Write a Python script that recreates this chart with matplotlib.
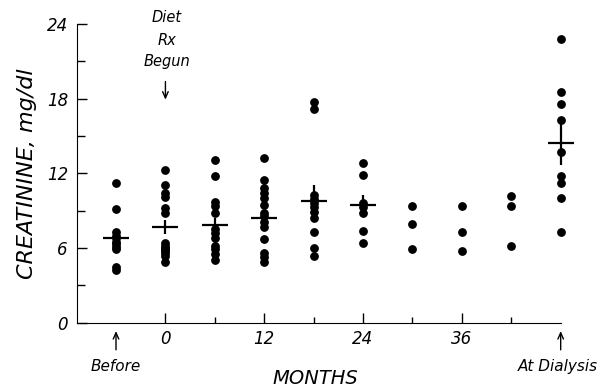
import matplotlib
matplotlib.use("Agg")
import matplotlib.pyplot as plt
from matplotlib.ticker import FixedLocator

# column positions (months); -6 = "Before", 48 = "At Dialysis"
before = [11.2, 9.1, 7.3, 7.0, 6.8, 6.5, 6.3, 6.1, 5.9, 4.5, 4.2]
m0 = [12.3, 11.1, 10.4, 10.1, 9.2, 8.8, 6.4, 6.2, 6.0, 5.9, 5.8, 5.6, 5.4, 4.9]
m6 = [13.1, 11.8, 9.7, 9.4, 8.8, 7.5, 7.2, 6.8, 6.2, 5.9, 5.5, 5.0]
m12 = [13.2, 11.5, 10.8, 10.4, 10.0, 9.45, 8.8, 8.6, 8.1, 7.7, 6.7, 5.6, 5.3, 4.9]
m18 = [17.7, 17.2, 10.3, 9.9, 9.6, 9.3, 8.9, 8.4, 7.3, 6.0, 5.4]
m24 = [12.8, 11.9, 9.6, 9.3, 8.8, 7.4, 6.4]
m30 = [9.4, 7.9, 5.9]
m36 = [9.4, 7.3, 5.8]
m42 = [10.2, 9.4, 6.2]
dialysis = [22.8, 18.5, 17.6, 16.3, 13.7, 11.8, 11.2, 10.0, 7.3]

columns = [-6, 0, 6, 12, 18, 24, 30, 36, 42, 48]
groups = [before, m0, m6, m12, m18, m24, m30, m36, m42, dialysis]

# mean +/- SEM crosses
mean_x = [-6, 0, 6, 12, 18, 24, 48]
mean_y = [6.77, 7.7, 7.84, 8.38, 9.8, 9.45, 14.4]
mean_err = [0.5, 0.55, 0.6, 0.6, 1.3, 0.8, 1.75]

fig = plt.figure(figsize=(6.16, 3.89), dpi=100)
ax = fig.add_axes([0.1255, 0.1704, 0.7847, 0.7679])

for x, vals in zip(columns, groups):
    ax.plot([x] * len(vals), vals, 'o', color='black', ms=5.3, clip_on=False, zorder=3)

ax.errorbar(mean_x, mean_y, yerr=mean_err, fmt='none', ecolor='black',
            elinewidth=1.6, capsize=0, clip_on=False, zorder=4)
ax.plot(mean_x, mean_y, '_', color='black', ms=19, mew=1.6, clip_on=False, zorder=4)

ax.set_xlim(-10.7, 48)
ax.set_ylim(0, 24)
ax.spines['top'].set_visible(False)
ax.spines['right'].set_visible(False)

ax.set_xticks([0, 12, 24, 36])
ax.xaxis.set_minor_locator(FixedLocator([6, 18, 30, 42]))
ax.set_yticks([0, 6, 12, 18, 24])
ax.yaxis.set_minor_locator(FixedLocator([3, 9, 15, 21]))
ax.tick_params(axis='both', which='both', direction='in')
ax.tick_params(axis='x', which='major', length=7, width=1, pad=5.3, labelsize=12)
ax.tick_params(axis='x', which='minor', length=4, width=1)
ax.tick_params(axis='y', which='major', length=7, width=1, pad=6.7, labelsize=12)
ax.tick_params(axis='y', which='minor', length=6, width=1)
for lab in ax.get_xticklabels() + ax.get_yticklabels():
    lab.set_fontstyle('italic')

ax.set_ylabel('CREATININE, mg/dl', fontsize=16, fontstyle='italic')
ax.yaxis.set_label_coords(-0.083, 0.5)

arrow = dict(arrowstyle='->,head_length=0.45,head_width=0.2', lw=1, color='black')
ax.annotate('', xy=(-6, -0.45), xytext=(-6, -2.4), annotation_clip=False, arrowprops=arrow)
ax.annotate('', xy=(48, -0.45), xytext=(48, -2.4), annotation_clip=False, arrowprops=arrow)
ax.annotate('', xy=(0, 17.7), xytext=(0, 19.6), annotation_clip=False, arrowprops=arrow)

txt = dict(ha='center', va='center', fontstyle='italic', annotation_clip=False)
ax.annotate('Before', xy=(-6, -3.5), fontsize=11, **txt)
ax.annotate('At Dialysis', xy=(47.6, -3.5), fontsize=11, **txt)
ax.annotate('MONTHS', xy=(18.2, -4.45), fontsize=14, **txt)
ax.annotate('Diet', xy=(0.2, 24.55), fontsize=10.5, **txt)
ax.annotate('Rx', xy=(0.2, 22.7), fontsize=10.5, **txt)
ax.annotate('Begun', xy=(0.2, 20.95), fontsize=10.5, **txt)

fig.savefig('out.png', dpi=100)
